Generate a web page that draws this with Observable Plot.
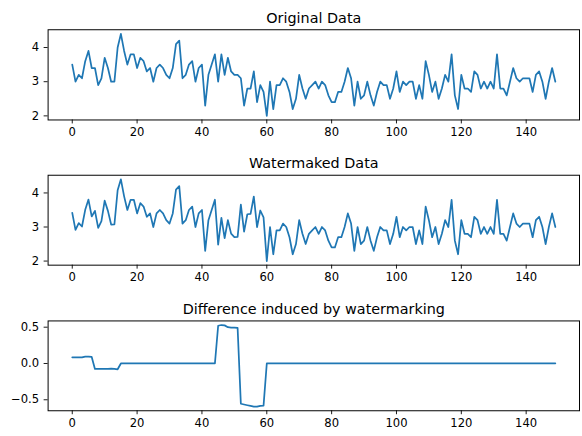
<!DOCTYPE html>
<html>
<head>
<meta charset="utf-8">
<script src="https://cdn.jsdelivr.net/npm/d3@7"></script>
<script src="https://cdn.jsdelivr.net/npm/@observablehq/plot@0.6"></script>
<style>
  html, body { margin: 0; padding: 0; background: #fff; overflow: hidden; }
  #chart { width: 582px; height: 436px; overflow: hidden; }
  #chart svg { display: block; }
</style>
</head>
<body>
<div id="chart"></div>
<script>
// ---- data ----
const titles = ["Original Data", "Watermaked Data", "Difference induced by watermarking"];
const xTicks = [0, 20, 40, 60, 80, 100, 120, 140];
const yTicksData = [2, 3, 4];
const yTicksDiff = [-0.5, 0.0, 0.5];

const original = [
  3.5,3.0,3.2,3.1,3.6,3.9,3.4,3.4,2.9,3.1,
  3.7,3.4,3.0,3.0,4.0,4.4,3.9,3.5,3.8,3.8,
  3.4,3.7,3.6,3.3,3.4,3.0,3.4,3.5,3.4,3.2,
  3.1,3.4,4.1,4.2,3.1,3.2,3.5,3.6,3.0,3.4,
  3.5,2.3,3.2,3.5,3.8,3.0,3.8,3.2,3.7,3.3,
  3.2,3.2,3.1,2.3,2.8,2.8,3.3,2.4,2.9,2.7,
  2.0,3.0,2.2,2.9,2.9,3.1,3.0,2.7,2.2,2.5,
  3.2,2.8,2.5,2.8,2.9,3.0,2.8,3.0,2.9,2.6,
  2.4,2.4,2.7,2.7,3.0,3.4,3.1,2.3,3.0,2.5,
  2.6,3.0,2.6,2.3,2.7,3.0,2.9,2.9,2.5,2.8,
  3.3,2.7,3.0,2.9,3.0,3.0,2.5,2.9,2.5,3.6,
  3.2,2.7,3.0,2.5,2.8,3.2,3.0,3.8,2.6,2.2,
  3.2,2.8,2.8,2.7,3.3,3.2,2.8,3.0,2.8,3.0,
  2.8,3.8,2.8,2.8,2.6,3.0,3.4,3.1,3.0,3.1,
  3.1,3.1,2.7,3.2,3.3,3.0,2.5,3.0,3.4,3.0
];

const watermarked = [
  3.415,2.915,3.115,3.015,3.505,3.805,3.31,3.475,2.975,3.175,
  3.773,3.474,3.072,3.075,4.08,4.4,3.9,3.5,3.8,3.8,
  3.4,3.7,3.6,3.3,3.4,3.0,3.4,3.5,3.4,3.2,
  3.1,3.4,4.1,4.2,3.1,3.2,3.5,3.6,3.0,3.4,
  3.5,2.3,3.2,3.5,3.8,2.48,3.27,2.675,3.2,2.805,
  2.705,2.71,3.655,2.865,3.375,3.385,3.895,2.995,3.485,3.28,
  2.0,3.0,2.2,2.9,2.9,3.1,3.0,2.7,2.2,2.5,
  3.2,2.8,2.5,2.8,2.9,3.0,2.8,3.0,2.9,2.6,
  2.4,2.4,2.7,2.7,3.0,3.4,3.1,2.3,3.0,2.5,
  2.6,3.0,2.6,2.3,2.7,3.0,2.9,2.9,2.5,2.8,
  3.3,2.7,3.0,2.9,3.0,3.0,2.5,2.9,2.5,3.6,
  3.2,2.7,3.0,2.5,2.8,3.2,3.0,3.8,2.6,2.2,
  3.2,2.8,2.8,2.7,3.3,3.2,2.8,3.0,2.8,3.0,
  2.8,3.8,2.8,2.8,2.6,3.0,3.4,3.1,3.0,3.1,
  3.1,3.1,2.7,3.2,3.3,3.0,2.5,3.0,3.4,3.0
];

const difference = [
  0.085,0.085,0.085,0.085,0.095,0.095,0.09,-0.075,-0.075,-0.075,
  -0.073,-0.074,-0.072,-0.075,-0.08,0,0,0,0,0,
  0,0,0,0,0,0,0,0,0,0,
  0,0,0,0,0,0,0,0,0,0,
  0,0,0,0,0,0.52,0.53,0.525,0.5,0.495,
  0.495,0.49,-0.555,-0.565,-0.575,-0.585,-0.595,-0.595,-0.585,-0.58,
  0,0,0,0,0,0,0,0,0,0,
  0,0,0,0,0,0,0,0,0,0,
  0,0,0,0,0,0,0,0,0,0,
  0,0,0,0,0,0,0,0,0,0,
  0,0,0,0,0,0,0,0,0,0,
  0,0,0,0,0,0,0,0,0,0,
  0,0.001,0.001,0.002,0.002,0.002,0.002,0.002,0.003,0.003,
  0.003,0.003,0.003,0.003,0.003,0.003,0.003,0.003,0.003,0.003,
  0.003,0.003,0.003,0.003,0.003,0.003,0.003,0.003,0.003,0.003
];

// ---- drawing ----
const BLUE = "#1f77b4";
function padded(values) {
  const [lo, hi] = d3.extent(values);
  const m = (hi - lo) * 0.05;
  return [lo - m, hi + m];
}
const xDomain = padded(d3.range(original.length));

function panel(values, title, yTicks, yFormat, height, mTop, mBottom) {
  return Plot.plot({
    width: 587,
    height,
    marginLeft: 48,
    marginRight: 3,
    marginTop: mTop,
    marginBottom: mBottom,
    style: { fontFamily: "DejaVu Sans", fontSize: "11.7px", color: "#000", background: "#fff", overflow: "visible" },
    x: { domain: xDomain, ticks: xTicks, tickSize: 4, tickPadding: 4, tickFormat: d3.format("d"), label: null },
    y: { domain: padded(values), ticks: yTicks, tickSize: 4, tickPadding: 5, tickFormat: yFormat, label: null },
    marks: [
      Plot.axisX({ticks: xTicks, tickSize: 4, tickPadding: 4, tickFormat: d3.format("d"), label: null, strokeWidth: 0.9}),
      Plot.axisY({ticks: yTicks, tickSize: 4, tickPadding: 5, tickFormat: yFormat, label: null, strokeWidth: 0.9}),
      Plot.lineY(values, { x: (d, i) => i, y: d => d, stroke: BLUE, strokeWidth: 1.75 }),
      Plot.frame({ stroke: "#000", strokeWidth: 1 }),
      Plot.text([title], { text: d => d, frameAnchor: "top", dy: -7, lineAnchor: "bottom", fontSize: 14.5, fill: "#000" })
    ]
  });
}

const root = document.getElementById("chart");
root.append(panel(original, titles[0], yTicksData, d3.format("d"), 146, 29.5, 25.5));
root.append(panel(watermarked, titles[1], yTicksData, d3.format("d"), 146, 30, 25.3));
root.append(panel(difference, titles[2], yTicksDiff, d3.format(".1f"), 144, 30.7, 22.7));
</script>
</body>
</html>
